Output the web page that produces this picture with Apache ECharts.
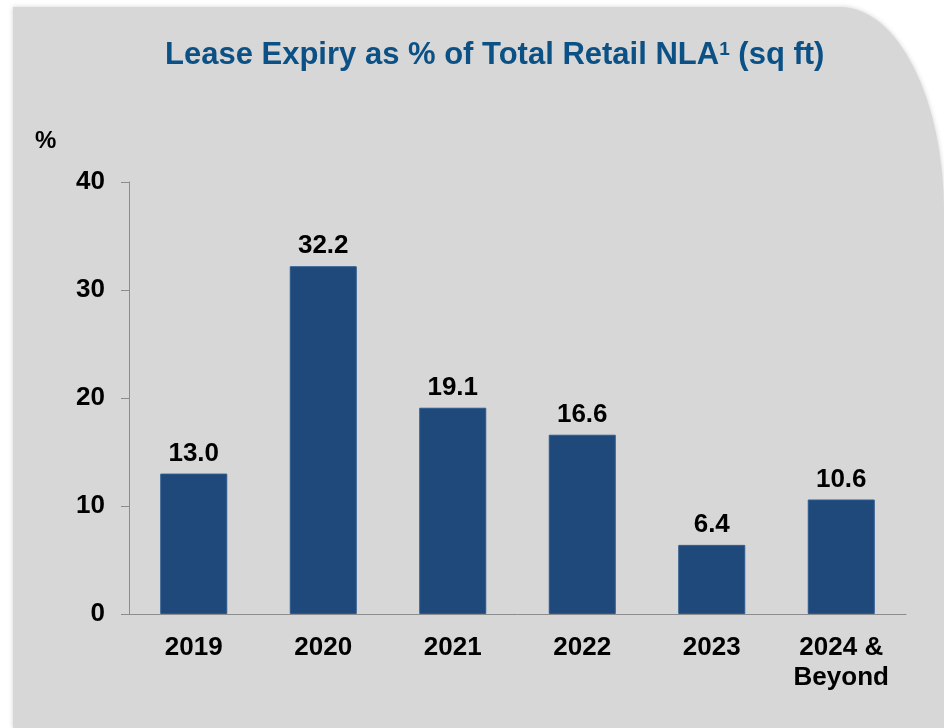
<!DOCTYPE html>
<html>
<head>
<meta charset="utf-8">
<script src="https://cdn.jsdelivr.net/npm/echarts@6/dist/echarts.min.js"></script>
<style>
html,body{margin:0;padding:0;background:#fff;}
#c{width:944px;height:728px;}
</style>
</head>
<body>
<div id="c"></div>
<script>
var categories = ['2019', '2020', '2021', '2022', '2023', '2024 &\nBeyond'];
var values = [13.0, 32.2, 19.1, 16.6, 6.4, 10.6];
var yTicks = [0, 10, 20, 30, 40];

var Panel = echarts.graphic.extendPath('M13,7 L840,7 A104,205 0 0 1 944,212 L944,728 L13,728 Z', {});
echarts.graphic.registerShape('panelShape', Panel);

var chart = echarts.init(document.getElementById('c'), null, {renderer: 'canvas'});
var font = '"Liberation Sans", Arial, sans-serif';
chart.setOption({
  animation: false,
  backgroundColor: '#ffffff',
  graphic: [
    {
      type: 'panelShape',
      z: -10,
      style: {fill: '#d7d7d7', shadowColor: 'rgba(0,0,0,0.18)', shadowBlur: 5}
    },
    {
      type: 'text',
      left: 35, top: 129,
      style: {text: '%', font: 'bold 24px ' + font, fill: '#000'}
    }
  ],
  title: {
    text: '{m|Lease Expiry as % of Total Retail NLA}{s|1}{m| (sq ft)}',
    left: 160,
    top: 35,
    textStyle: {
      rich: {
        m: {fontSize: 31, fontWeight: 'bold', color: '#0c5185', fontFamily: font},
        s: {fontSize: 19, fontWeight: 'bold', color: '#0c5185', fontFamily: font, verticalAlign: 'top'}
      }
    }
  },
  grid: {left: 129, right: 38, top: 182, bottom: 114, containLabel: false},
  xAxis: {
    type: 'category',
    data: categories,
    axisLine: {lineStyle: {color: '#8c8c8c', width: 1}},
    axisTick: {length: 8, lineStyle: {color: '#8c8c8c'}},
    axisLabel: {
      color: '#000', fontWeight: 'bold', fontSize: 26, fontFamily: font,
      margin: 19, lineHeight: 30, interval: 0
    }
  },
  yAxis: {
    type: 'value',
    min: yTicks[0], max: yTicks[yTicks.length - 1], interval: 10,
    axisLine: {show: true, lineStyle: {color: '#8c8c8c', width: 1}},
    axisTick: {show: true, length: 8, lineStyle: {color: '#8c8c8c'}},
    splitLine: {show: false},
    axisLabel: {color: '#000', fontWeight: 'bold', fontSize: 26, fontFamily: font, margin: 24}
  },
  series: [{
    type: 'bar',
    data: values,
    barWidth: 67,
    itemStyle: {color: '#1f497b', borderColor: '#2c5a8e', borderWidth: 1},
    label: {
      show: true, position: 'top', distance: 7,
      formatter: function (p) { return p.value.toFixed(1); },
      color: '#000', fontWeight: 'bold', fontSize: 26, fontFamily: font
    }
  }]
});
</script>
</body>
</html>
